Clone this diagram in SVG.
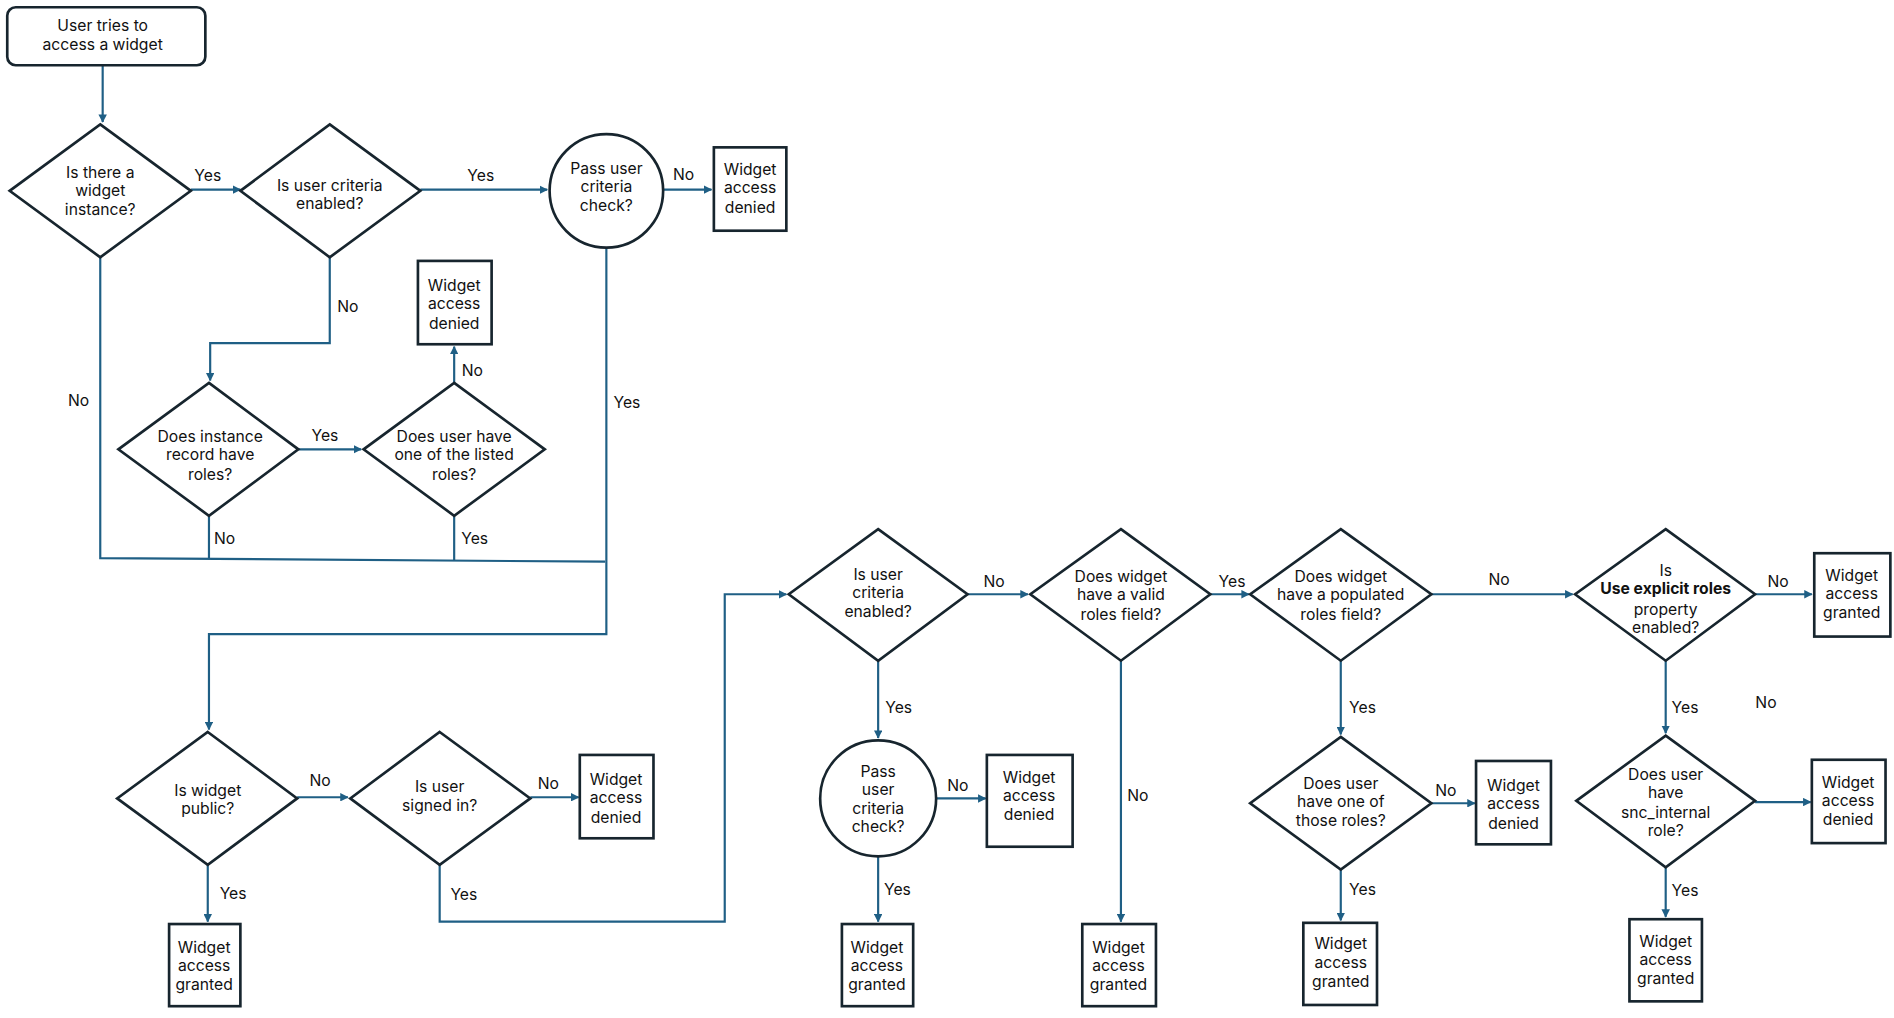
<svg xmlns="http://www.w3.org/2000/svg" width="1894" height="1018" viewBox="0 0 1894 1018">
<defs>
<marker id="ah" viewBox="0 0 10 10" refX="9" refY="5" markerWidth="7" markerHeight="7" markerUnits="userSpaceOnUse" orient="auto"><path d="M0,0L10,5L0,10z" fill="#1f5f85"/></marker>
<style>
.n{fill:#fff;stroke:#17252e;stroke-width:2.2}
.t{font-family:Inter,"Liberation Sans",sans-serif;font-size:13px;fill:#111;text-anchor:middle}
.l{font-family:Inter,"Liberation Sans",sans-serif;font-size:13px;fill:#111;text-anchor:middle}
.c{fill:none;stroke:#1f5f85;stroke-width:1.8}
.a{marker-end:url(#ah)}
</style>
</defs>
<rect width="1894" height="1018" fill="#fff"/>
<g transform="scale(1.2079)">
<g id="connectors">
<path class="c a" d="M85,54V101"/>
<path class="c a" d="M158,157H199"/>
<path class="c a" d="M348,157H453"/>
<path class="c a" d="M549,157H589"/>
<path class="c a" d="M273,213V284H174V315"/>
<path class="c a" d="M247,372H299"/>
<path class="c a" d="M376,317V287"/>
<path class="c" d="M173,427V463"/>
<path class="c" d="M376,427V464"/>
<path class="c" d="M83,213V462L501,465"/>
<path class="c a" d="M502,205V525H173V604"/>
<path class="c a" d="M246,660H288"/>
<path class="c a" d="M439,660H479"/>
<path class="c a" d="M172,716V763"/>
<path class="c a" d="M364,716V763H600V492H651"/>
<path class="c a" d="M801,492H851"/>
<path class="c a" d="M727,547V611"/>
<path class="c a" d="M775,661H816"/>
<path class="c a" d="M727,709V763"/>
<path class="c a" d="M1002,492H1034"/>
<path class="c a" d="M928,547V763"/>
<path class="c a" d="M1185,492H1302"/>
<path class="c a" d="M1110,547V608"/>
<path class="c a" d="M1185,665H1221"/>
<path class="c a" d="M1110,720V762"/>
<path class="c a" d="M1453,492H1500"/>
<path class="c a" d="M1379,547V607"/>
<path class="c a" d="M1453,664H1499"/>
<path class="c a" d="M1379,718V759"/>
<text class="l" x="172" y="150">Yes</text>
<text class="l" x="398" y="150">Yes</text>
<text class="l" x="566" y="149">No</text>
<text class="l" x="288" y="258">No</text>
<text class="l" x="269" y="365">Yes</text>
<text class="l" x="391" y="311">No</text>
<text class="l" x="186" y="450">No</text>
<text class="l" x="393" y="450">Yes</text>
<text class="l" x="65" y="336">No</text>
<text class="l" x="519" y="338">Yes</text>
<text class="l" x="265" y="651">No</text>
<text class="l" x="454" y="653">No</text>
<text class="l" x="193" y="744">Yes</text>
<text class="l" x="384" y="745">Yes</text>
<text class="l" x="823" y="486">No</text>
<text class="l" x="744" y="590">Yes</text>
<text class="l" x="793" y="655">No</text>
<text class="l" x="743" y="741">Yes</text>
<text class="l" x="1020" y="486">Yes</text>
<text class="l" x="942" y="663">No</text>
<text class="l" x="1241" y="484">No</text>
<text class="l" x="1128" y="590">Yes</text>
<text class="l" x="1197" y="659">No</text>
<text class="l" x="1128" y="741">Yes</text>
<text class="l" x="1472" y="486">No</text>
<text class="l" x="1395" y="590">Yes</text>
<text class="l" x="1462" y="586">No</text>
<text class="l" x="1395" y="742">Yes</text>
</g>
<g id="start"><rect class="n" x="6" y="6" width="164" height="48" rx="7"/><text class="t" x="85" y="26">User tries to</text><text class="t" x="85" y="41">access a widget</text></g>
<g id="d1"><path class="n" d="M83,103L158,158L83,213L8,158z"/><text class="t" x="83" y="147">Is there a</text><text class="t" x="83" y="162">widget</text><text class="t" x="83" y="178">instance?</text></g>
<g id="d2"><path class="n" d="M273,103L348,158L273,213L199,158z"/><text class="t" x="273" y="158">Is user criteria</text><text class="t" x="273" y="173">enabled?</text></g>
<g id="c1"><circle class="n" cx="502" cy="158" r="47"/><text class="t" x="502" y="144">Pass user</text><text class="t" x="502" y="159">criteria</text><text class="t" x="502" y="175">check?</text></g>
<g id="b1"><rect class="n" x="591" y="122" width="60" height="69"/><text class="t" x="621" y="145">Widget</text><text class="t" x="621" y="160">access</text><text class="t" x="621" y="176">denied</text></g>
<g id="d3"><path class="n" d="M173,317L247,372L173,427L98,372z"/><text class="t" x="174" y="366">Does instance</text><text class="t" x="174" y="381">record have</text><text class="t" x="174" y="397">roles?</text></g>
<g id="d4"><path class="n" d="M376,317L451,372L376,427L301,372z"/><text class="t" x="376" y="366">Does user have</text><text class="t" x="376" y="381">one of the listed</text><text class="t" x="376" y="397">roles?</text></g>
<g id="b2"><rect class="n" x="346" y="216" width="61" height="69"/><text class="t" x="376" y="241">Widget</text><text class="t" x="376" y="256">access</text><text class="t" x="376" y="272">denied</text></g>
<g id="d5"><path class="n" d="M172,606L246,661L172,716L97,661z"/><text class="t" x="172" y="659">Is widget</text><text class="t" x="172" y="674">public?</text></g>
<g id="d6"><path class="n" d="M364,606L439,661L364,716L290,661z"/><text class="t" x="364" y="656">Is user</text><text class="t" x="364" y="671">signed in?</text></g>
<g id="b3"><rect class="n" x="480" y="625" width="61" height="69"/><text class="t" x="510" y="650">Widget</text><text class="t" x="510" y="665">access</text><text class="t" x="510" y="681">denied</text></g>
<g id="b4"><rect class="n" x="140" y="765" width="59" height="68"/><text class="t" x="169" y="789">Widget</text><text class="t" x="169" y="804">access</text><text class="t" x="169" y="820">granted</text></g>
<g id="d7"><path class="n" d="M727,438L801,492L727,547L653,492z"/><text class="t" x="727" y="480">Is user</text><text class="t" x="727" y="495">criteria</text><text class="t" x="727" y="511">enabled?</text></g>
<g id="c2"><circle class="n" cx="727" cy="661" r="48"/><text class="t" x="727" y="643">Pass</text><text class="t" x="727" y="658">user</text><text class="t" x="727" y="674">criteria</text><text class="t" x="727" y="689">check?</text></g>
<g id="b5"><rect class="n" x="817" y="625" width="71" height="76"/><text class="t" x="852" y="648">Widget</text><text class="t" x="852" y="663">access</text><text class="t" x="852" y="679">denied</text></g>
<g id="b6"><rect class="n" x="697" y="765" width="59" height="68"/><text class="t" x="726" y="789">Widget</text><text class="t" x="726" y="804">access</text><text class="t" x="726" y="820">granted</text></g>
<g id="d8"><path class="n" d="M928,438L1002,492L928,547L853,492z"/><text class="t" x="928" y="482">Does widget</text><text class="t" x="928" y="497">have a valid</text><text class="t" x="928" y="513">roles field?</text></g>
<g id="b7"><rect class="n" x="896" y="765" width="61" height="68"/><text class="t" x="926" y="789">Widget</text><text class="t" x="926" y="804">access</text><text class="t" x="926" y="820">granted</text></g>
<g id="d9"><path class="n" d="M1110,438L1185,492L1110,547L1035,492z"/><text class="t" x="1110" y="482">Does widget</text><text class="t" x="1110" y="497">have a populated</text><text class="t" x="1110" y="513">roles field?</text></g>
<g id="d10"><path class="n" d="M1110,610L1185,665L1110,720L1035,665z"/><text class="t" x="1110" y="653">Does user</text><text class="t" x="1110" y="668">have one of</text><text class="t" x="1110" y="684">those roles?</text></g>
<g id="b8"><rect class="n" x="1222" y="630" width="62" height="69"/><text class="t" x="1253" y="655">Widget</text><text class="t" x="1253" y="670">access</text><text class="t" x="1253" y="686">denied</text></g>
<g id="b9"><rect class="n" x="1079" y="764" width="61" height="68"/><text class="t" x="1110" y="786">Widget</text><text class="t" x="1110" y="801">access</text><text class="t" x="1110" y="817">granted</text></g>
<g id="d11"><path class="n" d="M1379,438L1453,492L1379,547L1304,492z"/><text class="t" x="1379" y="477">Is</text><text class="t" x="1379" y="492" font-weight="bold">Use explicit roles</text><text class="t" x="1379" y="509">property</text><text class="t" x="1379" y="524">enabled?</text></g>
<g id="b10"><rect class="n" x="1502" y="458" width="63" height="69"/><text class="t" x="1533" y="481">Widget</text><text class="t" x="1533" y="496">access</text><text class="t" x="1533" y="512">granted</text></g>
<g id="d12"><path class="n" d="M1379,609L1453,663L1379,718L1305,663z"/><text class="t" x="1379" y="646">Does user</text><text class="t" x="1379" y="661">have</text><text class="t" x="1379" y="677">snc_internal</text><text class="t" x="1379" y="692">role?</text></g>
<g id="b11"><rect class="n" x="1500" y="629" width="61" height="69"/><text class="t" x="1530" y="652">Widget</text><text class="t" x="1530" y="667">access</text><text class="t" x="1530" y="683">denied</text></g>
<g id="b12"><rect class="n" x="1349" y="761" width="60" height="68"/><text class="t" x="1379" y="784">Widget</text><text class="t" x="1379" y="799">access</text><text class="t" x="1379" y="815">granted</text></g>
</g>
</svg>
